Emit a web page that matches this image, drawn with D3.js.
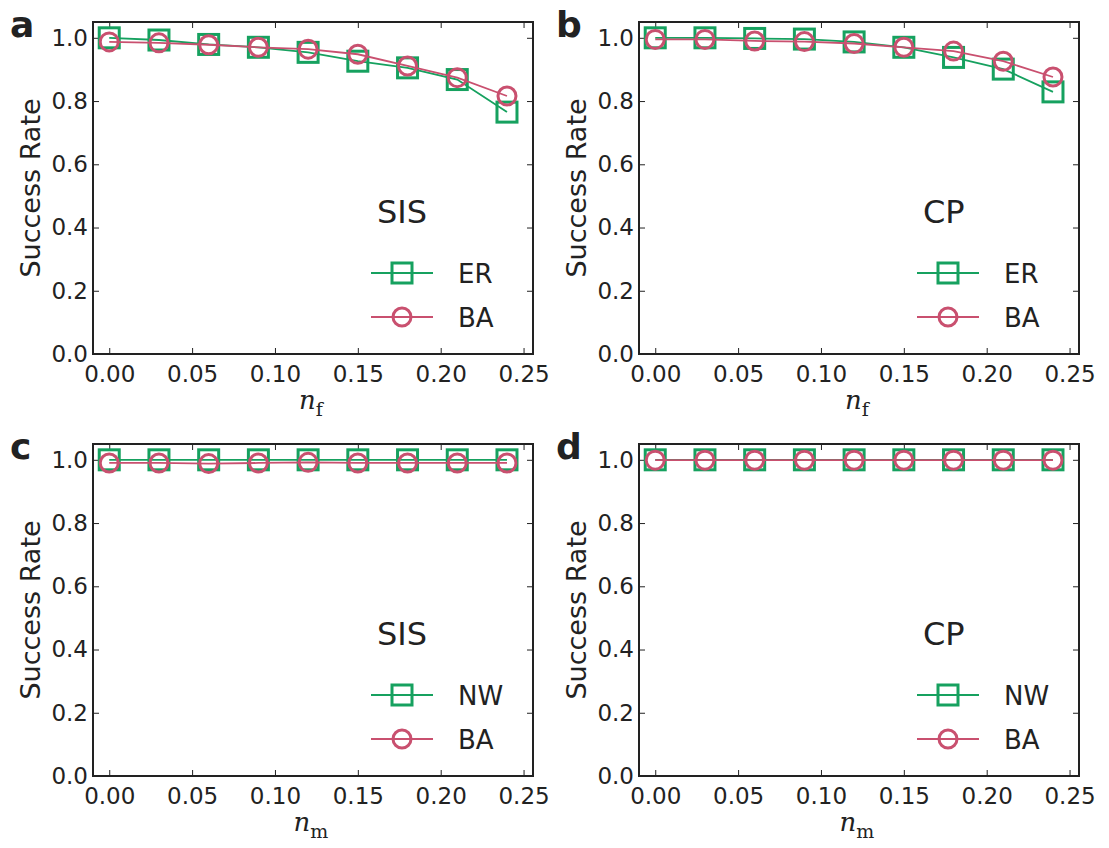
<!DOCTYPE html>
<html>
<head>
<meta charset="utf-8">
<script src="https://cdn.jsdelivr.net/npm/d3@7"></script>
<style>
  body { margin: 0; background: #fff; }
  svg text { font-family: "DejaVu Sans", sans-serif; fill: #222; }
</style>
</head>
<body>
<div id="gr"></div>
<script>
// fraction of nodes (f) / edges (m)
var xVals = [0, 0.03, 0.06, 0.09, 0.12, 0.15, 0.18, 0.21, 0.24];

var aER = [1.0, 0.993, 0.979, 0.970, 0.954, 0.926, 0.905, 0.868, 0.765];
var aBA = [0.987, 0.984, 0.978, 0.970, 0.964, 0.948, 0.911, 0.874, 0.816];
var bER = [1.0, 1.0, 0.998, 0.996, 0.987, 0.970, 0.938, 0.901, 0.829];
var bBA = [0.995, 0.995, 0.990, 0.988, 0.982, 0.970, 0.958, 0.926, 0.876];
var cNW = [1.0, 1.0, 1.0, 1.0, 1.0, 1.0, 1.0, 1.0, 1.0];
var cBA = [0.990, 0.990, 0.988, 0.990, 0.992, 0.990, 0.990, 0.990, 0.990];
var dNW = [1.0, 1.0, 1.0, 1.0, 1.0, 1.0, 1.0, 1.0, 1.0];
var dBA = [0.999, 0.999, 0.999, 0.999, 0.999, 0.999, 0.999, 0.999, 0.999];

var xTicks = [0, 0.05, 0.10, 0.15, 0.20, 0.25];
var yTicks = [0, 0.2, 0.4, 0.6, 0.8, 1.0];

var green = "#16a15f", pink = "#c9506f";

var W = 1109, H = 848;
var pw = 440, ph = 332;

var panels = [
  { letter: "a", left: 93, top: 22, model: "SIS", sub: "f", names: ["ER", "BA"], s1: aER, s2: aBA },
  { letter: "b", left: 639, top: 22, model: "CP", sub: "f", names: ["ER", "BA"], s1: bER, s2: bBA },
  { letter: "c", left: 93, top: 444, model: "SIS", sub: "m", names: ["NW", "BA"], s1: cNW, s2: cBA },
  { letter: "d", left: 639, top: 444, model: "CP", sub: "m", names: ["NW", "BA"], s1: dNW, s2: dBA }
];

var svg = d3.select("#gr").append("svg")
  .attr("width", W)
  .attr("height", H);

var xScale = d3.scaleLinear().domain([-0.0098, 0.2557]).range([0, pw]);
var yScale = d3.scaleLinear().domain([0, 1.05]).range([ph, 0]);

function drawSeries(g, vals, color, shape) {
  var line = d3.line()
    .x(function (d, i) { return xScale(xVals[i]); })
    .y(function (d) { return yScale(d); });
  g.append("path")
    .datum(vals)
    .attr("d", line)
    .attr("fill", "none")
    .attr("stroke", color)
    .attr("stroke-width", 1.8);
  vals.forEach(function (v, i) {
    marker(g, xScale(xVals[i]), yScale(v), color, shape);
  });
}

function marker(g, cx, cy, color, shape) {
  if (shape == "square") {
    g.append("rect")
      .attr("x", cx - 10).attr("y", cy - 10)
      .attr("width", 20).attr("height", 20)
      .attr("fill", "none")
      .attr("stroke", color)
      .attr("stroke-width", 3);
  } else {
    g.append("circle")
      .attr("cx", cx).attr("cy", cy)
      .attr("r", 9)
      .attr("fill", "none")
      .attr("stroke", color)
      .attr("stroke-width", 3);
  }
}

panels.forEach(function (p) {
  var g = svg.append("g").attr("transform", "translate(" + p.left + "," + p.top + ")");

  // axes with inward ticks on all four sides
  var xb = g.append("g").attr("transform", "translate(0," + ph + ")")
    .call(d3.axisBottom(xScale).tickValues(xTicks).tickFormat(d3.format(".2f"))
      .tickSizeInner(-6).tickSizeOuter(0).tickPadding(7));
  var xt = g.append("g")
    .call(d3.axisTop(xScale).tickValues(xTicks).tickFormat("")
      .tickSizeInner(-6).tickSizeOuter(0));
  var yl = g.append("g")
    .call(d3.axisLeft(yScale).tickValues(yTicks).tickFormat(d3.format(".1f"))
      .tickSizeInner(-6).tickSizeOuter(0).tickPadding(5));
  var yr = g.append("g").attr("transform", "translate(" + pw + ",0)")
    .call(d3.axisRight(yScale).tickValues(yTicks).tickFormat("")
      .tickSizeInner(-6).tickSizeOuter(0));

  [xb, xt, yl, yr].forEach(function (a) {
    a.select(".domain").remove();
    a.selectAll("line").attr("stroke", "#222").attr("stroke-width", 1);
    a.selectAll("text").style("font-size", "23px").attr("fill", "#222")
      .style("font-family", "DejaVu Sans, sans-serif");
  });
  xb.selectAll("text").attr("dy", "0.9em");

  g.append("rect")
    .attr("width", pw).attr("height", ph)
    .attr("fill", "none")
    .attr("stroke", "#222")
    .attr("stroke-width", 2);

  drawSeries(g, p.s1, green, "square");
  drawSeries(g, p.s2, pink, "circle");

  // model label
  g.append("text")
    .attr("x", 284).attr("y", 201)
    .style("font-size", "32px")
    .text(p.model);

  // legend
  var rows = [[p.names[0], green, "square"], [p.names[1], pink, "circle"]];
  rows.forEach(function (r, i) {
    var ly = 251 + i * 44;
    g.append("line")
      .attr("x1", 278).attr("x2", 340)
      .attr("y1", ly).attr("y2", ly)
      .attr("stroke", r[1]).attr("stroke-width", 1.8);
    marker(g, 309, ly, r[1], r[2]);
    g.append("text")
      .attr("x", 365).attr("y", ly + 10)
      .style("font-size", "26px")
      .text(r[0]);
  });

  // y label
  g.append("text")
    .attr("transform", "translate(-62," + (ph / 2) + ") rotate(-90)")
    .attr("text-anchor", "middle")
    .attr("dy", "0.35em")
    .style("font-size", "27px")
    .text("Success Rate");

  // x label n_f / n_m
  var xl = g.append("text")
    .attr("x", pw / 2 - 2).attr("y", ph + 55)
    .attr("text-anchor", "middle");
  xl.append("tspan")
    .style("font-family", "DejaVu Serif, serif")
    .style("font-style", "italic")
    .style("font-size", "26px")
    .text("n");
  xl.append("tspan")
    .attr("dy", 7)
    .style("font-family", "DejaVu Serif, serif")
    .style("font-size", "19px")
    .text(p.sub);

  // panel letter
  svg.append("text")
    .attr("x", p.left - 83).attr("y", p.top + 15)
    .style("font-size", "36px")
    .style("font-weight", "bold")
    .text(p.letter);
});
</script>
</body>
</html>
